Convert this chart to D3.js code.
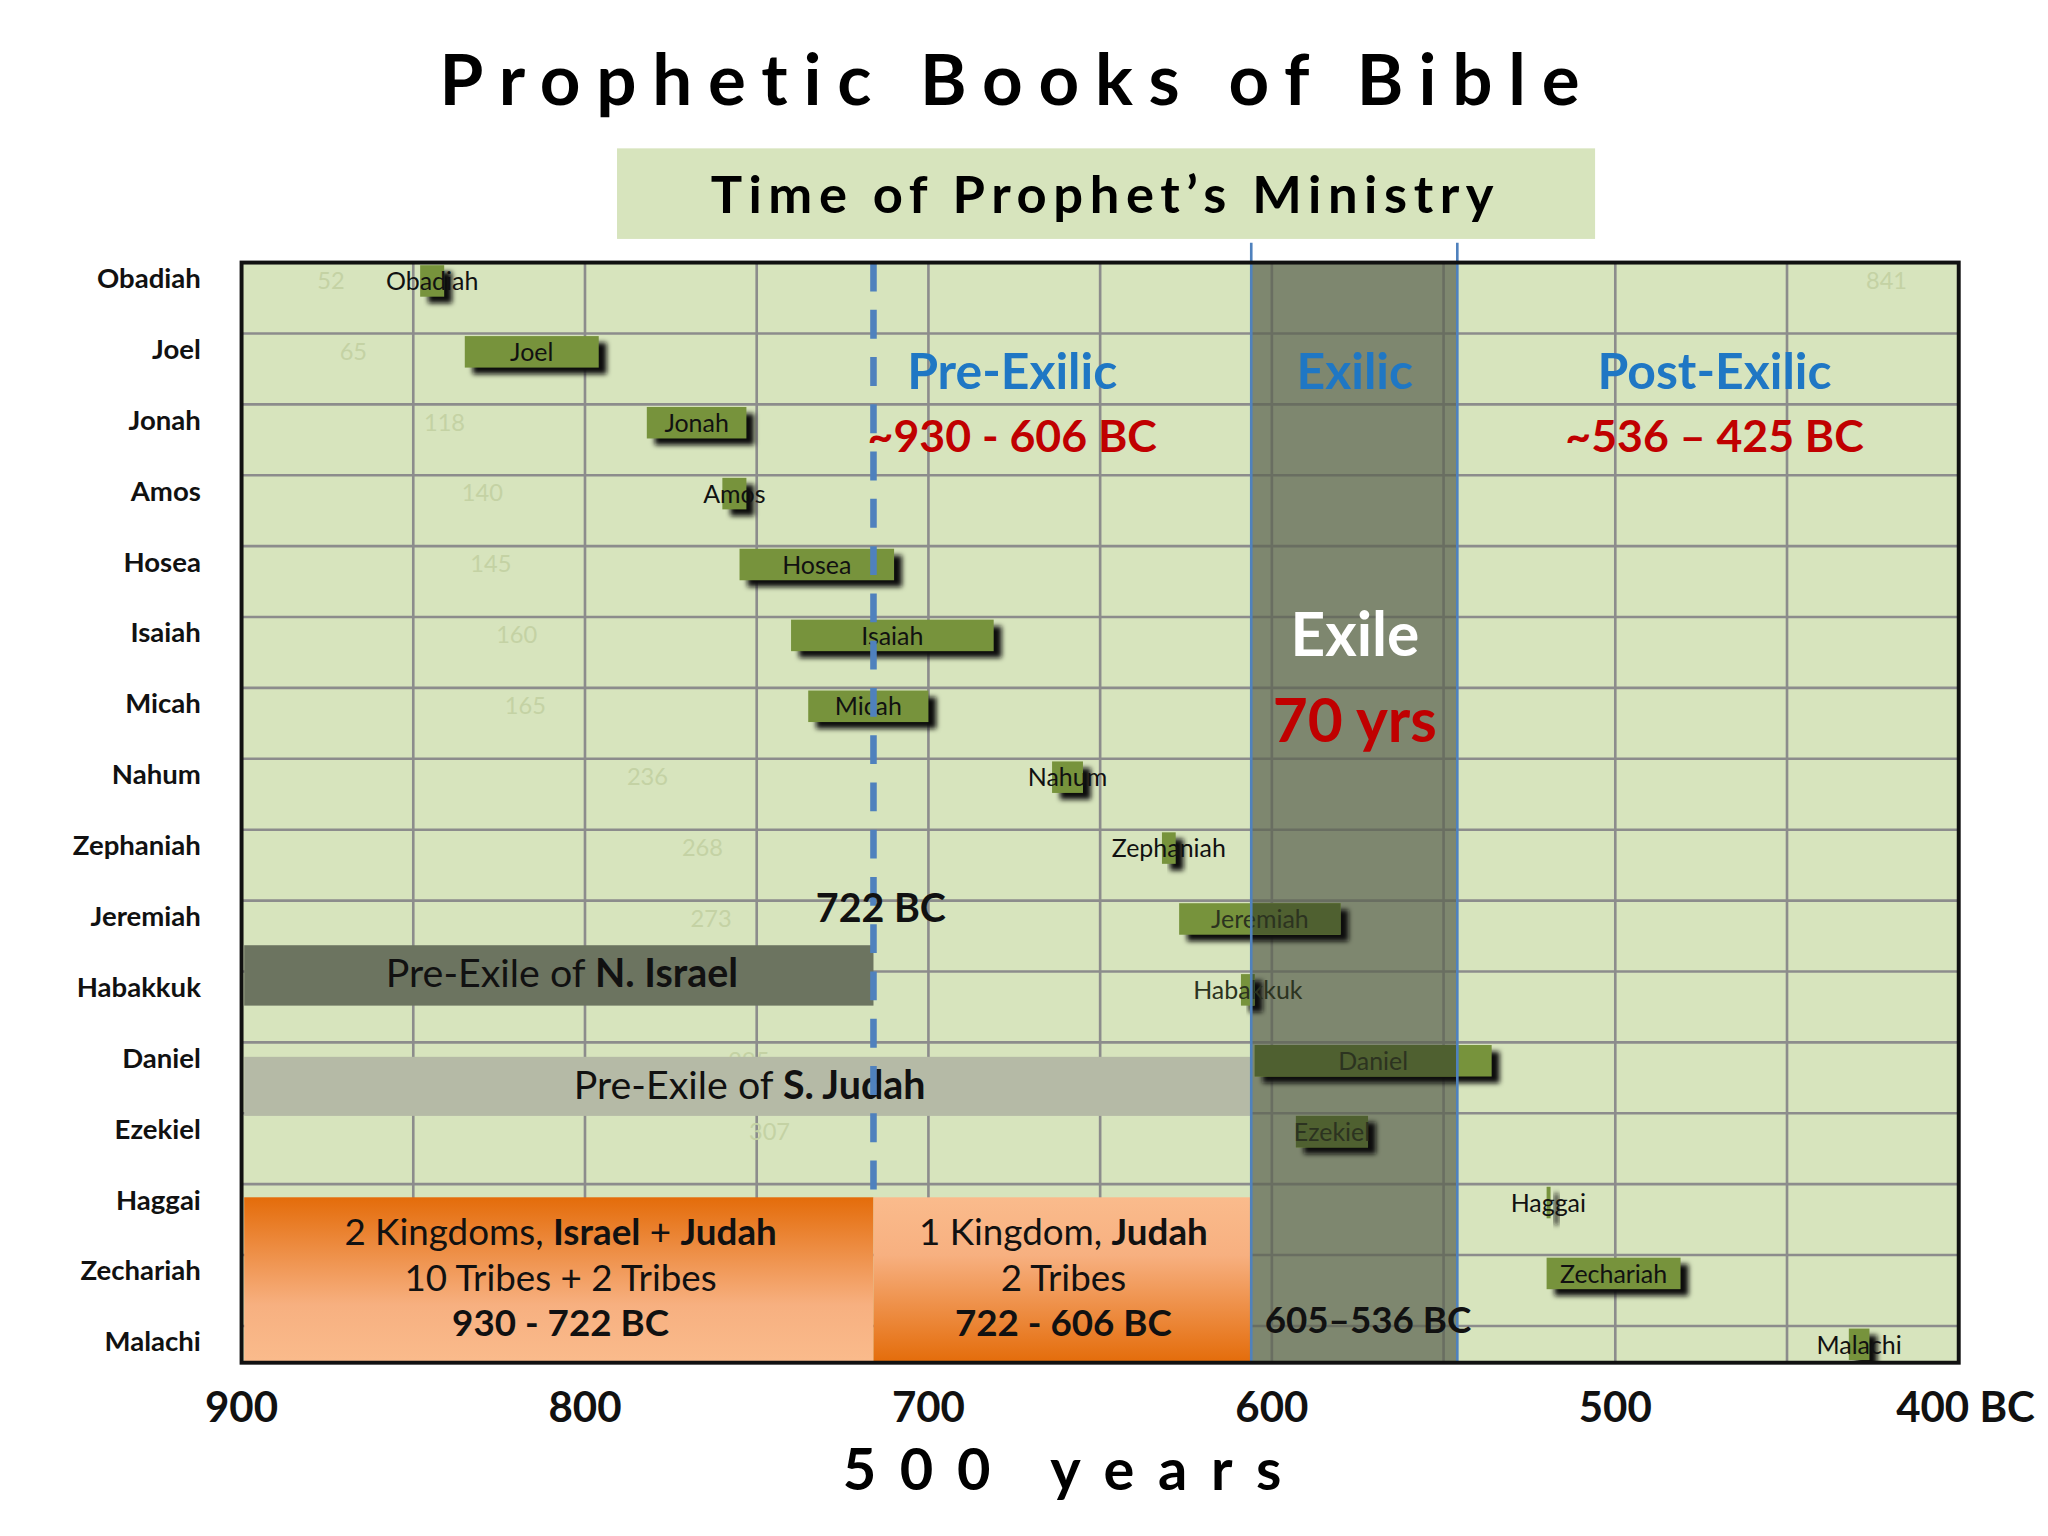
<!DOCTYPE html>
<html><head><meta charset="utf-8">
<script src="https://cdn.jsdelivr.net/npm/d3@7"></script>
<style>body{margin:0;background:#fff}</style></head>
<body><svg id="c" width="2048" height="1536" viewBox="0 0 1560 1170"></svg>
<script>
const prophets = ["Obadiah","Joel","Jonah","Amos","Hosea","Isaiah","Micah","Nahum","Zephaniah","Jeremiah","Habakkuk","Daniel","Ezekiel","Haggai","Zechariah","Malachi"];
const startBC = [848,835,782,760,755,740,735,664,632,627,609,605,593,520,520,432];
const endBC   = [841,796,753,753,710,681,700,655,628,580,605,536,572,519,481,426];
const faint   = [52,65,118,140,145,160,165,236,268,273,null,295,307,null,null,null];
const xTicks = [900,800,700,600,500,400];
const xTickLabels = ["900","800","700","600","500","400 BC"];
const gridYears = [850,800,750,700,650,600,550,500,450];

const F = "Lato, 'Open Sans', sans-serif";
const svg = d3.select("#c");
const L=184,R=1492,T=200,B=1038;
const x = d3.scaleLinear().domain([900,400]).range([L,R]);
const y = d3.scaleBand().domain(prophets).range([T,T+16*54]);
const fx = d3.scaleLinear().domain([0,100]).range([L,L+131]);

const defs = svg.append("defs");
const g1=defs.append("linearGradient").attr("id","og1").attr("x1",0).attr("x2",0).attr("y1",0).attr("y2",1);
g1.append("stop").attr("offset","0%").attr("stop-color","#e46c0a");
g1.append("stop").attr("offset","65%").attr("stop-color","#f7b080");
g1.append("stop").attr("offset","100%").attr("stop-color","#fabb8c");
const g2=defs.append("linearGradient").attr("id","og2").attr("x1",0).attr("x2",0).attr("y1",0).attr("y2",1);
g2.append("stop").attr("offset","0%").attr("stop-color","#fabb8c");
g2.append("stop").attr("offset","35%").attr("stop-color","#f7b080");
g2.append("stop").attr("offset","100%").attr("stop-color","#e46c0a");
const flt=defs.append("filter").attr("id","sh").attr("x","-20%").attr("y","-20%").attr("width","150%").attr("height","180%");
flt.append("feGaussianBlur").attr("stdDeviation",2);

svg.append("text").attr("x",775).attr("y",80).attr("text-anchor","middle").attr("font-family",F)
  .attr("font-weight",700).attr("font-size",54).attr("letter-spacing",12).text("Prophetic Books of Bible");
svg.append("rect").attr("x",470).attr("y",113).attr("width",745).attr("height",69).attr("fill","#d7e4bd");
svg.append("text").attr("x",842).attr("y",162).attr("text-anchor","middle").attr("font-family",F)
  .attr("font-weight",700).attr("font-size",40).attr("letter-spacing",5).text("Time of Prophet’s Ministry");

svg.append("rect").attr("x",L).attr("y",T).attr("width",R-L).attr("height",B-T).attr("fill","#d7e4bd");
svg.selectAll(".gv").data(gridYears).join("line").attr("x1",d=>x(d)).attr("x2",d=>x(d)).attr("y1",T).attr("y2",B)
  .attr("stroke","#8c8c8c").attr("stroke-width",2);
svg.selectAll(".gh").data(prophets.slice(1)).join("line").attr("x1",L).attr("x2",R)
  .attr("y1",d=>y(d)).attr("y2",d=>y(d)).attr("stroke","#8c8c8c").attr("stroke-width",2);

svg.selectAll(".fn").data(prophets.map((p,i)=>({p,v:faint[i]})).filter(d=>d.v!=null)).join("text")
  .attr("x",d=>fx(d.v)).attr("y",d=>y(d.p)+20).attr("text-anchor","middle")
  .attr("font-family",F).attr("font-size",18).attr("fill","#c4d2a4").text(d=>d.v);
svg.append("text").attr("x",1437).attr("y",220).attr("text-anchor","middle").attr("font-family",F)
  .attr("font-size",18).attr("fill","#c4d2a4").text("841");

svg.append("rect").attr("x",x(900)+2).attr("y",720).attr("width",x(716)-x(900)-2).attr("height",46).attr("fill","#6c7460");
svg.append("rect").attr("x",x(900)+2).attr("y",805).attr("width",x(606)-x(900)-2).attr("height",45).attr("fill","#b5baa6");
svg.append("text").attr("x",428).attr("y",752).attr("text-anchor","middle").attr("font-family",F).attr("font-size",30)
  .attr("fill","#111").html('Pre-Exile of <tspan font-weight="700">N. Israel</tspan>');
svg.append("text").attr("x",571).attr("y",837).attr("text-anchor","middle").attr("font-family",F).attr("font-size",30)
  .attr("fill","#111").html('Pre-Exile of <tspan font-weight="700">S. Judah</tspan>');

svg.append("rect").attr("x",x(900)+2).attr("y",912).attr("width",x(716)-x(900)-2).attr("height",B-912).attr("fill","url(#og1)");
svg.append("rect").attr("x",x(716)).attr("y",912).attr("width",x(606)-x(716)).attr("height",B-912).attr("fill","url(#og2)");
const ob=[[427,"2 Kingdoms, <tspan font-weight='700'>Israel</tspan> + <tspan font-weight='700'>Judah</tspan>",948],
  [427,"10 Tribes + 2 Tribes",983],[427,"<tspan font-weight='700'>930 - 722 BC</tspan>",1018],
  [810,"1 Kingdom, <tspan font-weight='700'>Judah</tspan>",948],[810,"2 Tribes",983],[810,"<tspan font-weight='700'>722 - 606 BC</tspan>",1018]];
ob.forEach(d=>svg.append("text").attr("x",d[0]).attr("y",d[2]).attr("text-anchor","middle").attr("font-family",F)
  .attr("font-size",28).attr("fill","#111").html(d[1]));

svg.append("rect").attr("x",x(606)).attr("y",T).attr("width",x(546)-x(606)).attr("height",B-T)
  .attr("fill","#5c6250").attr("opacity",0.72);

const data = prophets.map((p,i)=>({p,s:startBC[i],e:endBC[i]}));
const bh=24;
const clip = defs.append("clipPath").attr("id","pc");
clip.append("rect").attr("x",L).attr("y",T).attr("width",R-L).attr("height",B-T);
const gb = svg.append("g").attr("clip-path","url(#pc)");
gb.selectAll(".bs").data(data).join("rect").attr("x",d=>x(d.s)+6).attr("y",d=>y(d.p)+7)
  .attr("width",d=>Math.max(3,x(d.e)-x(d.s))).attr("height",bh).attr("fill","#111").attr("filter","url(#sh)");
gb.selectAll(".b").data(data).join("rect").attr("x",d=>x(d.s)).attr("y",d=>y(d.p)+2)
  .attr("width",d=>Math.max(3,x(d.e)-x(d.s))).attr("height",bh).attr("fill","#77933c");
gb.selectAll(".bd").data(data.filter(d=>d.e<606 && d.s>546)).join("rect")
  .attr("x",d=>x(Math.min(d.s,606))).attr("y",d=>y(d.p)+2)
  .attr("width",d=>x(Math.max(d.e,546))-x(Math.min(d.s,606))).attr("height",bh).attr("fill","#4f6030");
svg.selectAll(".bl").data(data).join("text").attr("x",d=>(x(d.s)+x(d.e))/2).attr("y",d=>y(d.p)+21)
  .attr("text-anchor","middle").attr("font-family",F).attr("font-size",19)
  .attr("fill",d=>(d.e<606&&d.s>546)?"#2c3320":"#111").text(d=>d.p);

[606,546].forEach(v=>svg.append("line").attr("x1",x(v)).attr("x2",x(v)).attr("y1",185).attr("y2",B)
  .attr("stroke","#4f81bd").attr("stroke-width",2));
svg.append("line").attr("x1",x(716)).attr("x2",x(716)).attr("y1",T).attr("y2",912)
  .attr("stroke","#4f81bd").attr("stroke-width",5).attr("stroke-dasharray","22,14");

svg.append("rect").attr("x",L).attr("y",T).attr("width",R-L).attr("height",B-T).attr("fill","none")
  .attr("stroke","#111").attr("stroke-width",3);

const lab=(t,xx,yy,sz,c,w)=>svg.append("text").attr("x",xx).attr("y",yy).attr("text-anchor","middle")
  .attr("font-family",F).attr("font-size",sz).attr("font-weight",w||700).attr("fill",c).text(t);
lab("Pre-Exilic",771,296,38,"#1f77c4");
lab("~930 - 606 BC",771,344,34,"#c00000");
lab("Exilic",1032,296,38,"#1f77c4");
lab("Post-Exilic",1306,296,38,"#1f77c4");
lab("~536 – 425 BC",1306,344,34,"#c00000");
lab("Exile",1032,500,46,"#ffffff");
lab("70 yrs",1032,565,46,"#c00000");
lab("722 BC",671,702,30,"#111");
lab("605–536 BC",1042,1015,28,"#111");

svg.selectAll(".yl").data(prophets).join("text").attr("x",153).attr("y",d=>y(d)+14)
  .attr("text-anchor","end").attr("dominant-baseline","middle").attr("font-family",F).attr("font-weight",700)
  .attr("font-size",21).attr("fill","#111").text(d=>d);

svg.selectAll(".xl").data(xTicks).join("text").attr("x",(d,i)=>i==5?1550:x(d)).attr("y",1083)
  .attr("text-anchor",(d,i)=>i==5?"end":"middle").attr("font-family",F).attr("font-weight",700).attr("font-size",32)
  .attr("fill","#111").text((d,i)=>xTickLabels[i]);
svg.append("text").attr("x",818).attr("y",1135).attr("text-anchor","middle").attr("font-family",F)
  .attr("font-weight",700).attr("font-size",44).attr("letter-spacing",18).text("500 years");
</script></body></html>
